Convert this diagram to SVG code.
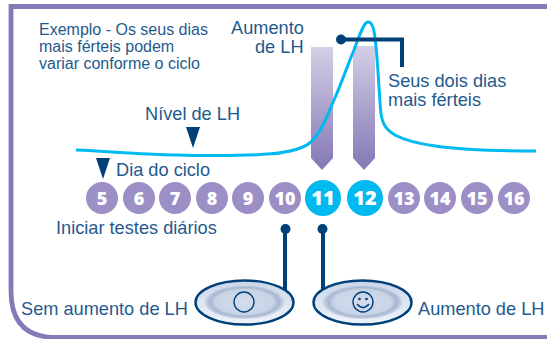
<svg xmlns="http://www.w3.org/2000/svg" width="547" height="339" viewBox="0 0 547 339">
<defs>
<linearGradient id="bar" x1="0" y1="0" x2="0" y2="1"><stop offset="0" stop-color="#d4cfe6"/><stop offset="1" stop-color="#8477b5"/></linearGradient>
<radialGradient id="well" cx="0.5" cy="0.5" r="0.5"><stop offset="0" stop-color="#d3dcec"/><stop offset="0.72" stop-color="#c9d4e7"/><stop offset="0.86" stop-color="#a8b6d1"/><stop offset="1" stop-color="#d0dbeb"/></radialGradient>
<linearGradient id="shell" x1="0" y1="0" x2="0" y2="1"><stop offset="0" stop-color="#c9d6e8"/><stop offset="1" stop-color="#f0f4fa"/></linearGradient>
</defs>
<style>
text{font-family:"Liberation Sans",Arial,sans-serif;fill:#1f5a8e;font-size:18.2px}
.small{font-size:16px}
.day{font-family:"Open Sans","DejaVu Sans",sans-serif;font-weight:800;fill:#fff;font-size:18px;text-anchor:middle}
.big{font-size:20px}
.d{fill:#9b8fc5}
.h{fill:#00b9f0}
.ln{fill:none;stroke:#004078;stroke-width:4}
.dot{fill:#004078}
.oval{fill:url(#shell);stroke:#004078;stroke-width:2.4}
.well{fill:url(#well)}
.mark{fill:none;stroke:#004078;stroke-width:1.4}
</style>
<rect width="547" height="339" fill="#fff"/>
<path id="frame" d="M550 6.500H11V291Q11 337.500 56 337.500H550" fill="none" stroke="#8779b7" stroke-width="4.800"/>
<g id="bars">
<path d="M311 47H333V158L322 170L311 158Z" fill="url(#bar)"/>
<path d="M353 46H375V158L364 170L353 158Z" fill="url(#bar)"/>
</g>
<path id="lh-curve" d="M76 150C120 152 160 156 210 155.500C250 155.500 295 156 311 142C322 131 328 114 334 100C342 82 348 64 354 50C360 34 364 22 368 22C372 22 374 28 375 38C378 60 379 95 381 114C383 126 387 130 395 135C410 143 440 151 536 151" fill="none" stroke="#00b9f0" stroke-width="3"/>
<g id="connectors">
<circle class="dot" cx="341" cy="39.500" r="5"/>
<path class="ln" d="M341 39.500H402V67"/>
<circle class="dot" cx="285.500" cy="229" r="5"/>
<path class="ln" d="M285 229V292"/>
<circle class="dot" cx="322.500" cy="229" r="5"/>
<path class="ln" d="M323 229V292"/>
<path class="dot" d="M186 127H200L193 148Z"/>
<path class="dot" d="M96 158H110L103 179Z"/>
</g>
<g id="labels">
<text class="small" x="39" y="35">Exemplo - Os seus dias</text>
<text class="small" x="39" y="52">mais férteis podem</text>
<text class="small" x="39" y="69">variar conforme o ciclo</text>
<text x="231" y="34">Aumento</text>
<text x="255" y="53">de LH</text>
<text x="388" y="86.500">Seus dois dias</text>
<text x="388" y="105.500">mais férteis</text>
<text x="145" y="120">Nível de LH</text>
<text x="116" y="176">Dia do ciclo</text>
<text x="56" y="234">Iniciar testes diários</text>
<text x="21" y="315">Sem aumento de LH</text>
<text x="418" y="315">Aumento de LH</text>
</g>
<g id="day-5"><circle class="d" cx="102" cy="198" r="16"/><text class="day" x="102" y="204.500">5</text></g>
<g id="day-6"><circle class="d" cx="139" cy="198" r="16"/><text class="day" x="139" y="204.500">6</text></g>
<g id="day-7"><circle class="d" cx="175" cy="198" r="16"/><text class="day" x="175" y="204.500">7</text></g>
<g id="day-8"><circle class="d" cx="212" cy="198" r="16"/><text class="day" x="212" y="204.500">8</text></g>
<g id="day-9"><circle class="d" cx="248" cy="198" r="16"/><text class="day" x="248" y="204.500">9</text></g>
<g id="day-10"><circle class="d" cx="285" cy="198" r="16"/><text class="day" x="285" y="204.500">10</text></g>
<g id="day-11"><circle class="h" cx="323" cy="198" r="18"/><text class="day big" x="323" y="205">11</text></g>
<g id="day-12"><circle class="h" cx="365" cy="198" r="18"/><text class="day big" x="365" y="205">12</text></g>
<g id="day-13"><circle class="d" cx="404" cy="198" r="16"/><text class="day" x="404" y="204.500">13</text></g>
<g id="day-14"><circle class="d" cx="440" cy="198" r="16"/><text class="day" x="440" y="204.500">14</text></g>
<g id="day-15"><circle class="d" cx="477" cy="198" r="16"/><text class="day" x="477" y="204.500">15</text></g>
<g id="day-16"><circle class="d" cx="514" cy="198" r="16"/><text class="day" x="514" y="204.500">16</text></g>
<g id="test-negative">
<ellipse class="oval" cx="244.500" cy="302.500" rx="49" ry="22"/>
<ellipse class="well" cx="244.500" cy="302" rx="40" ry="17"/>
<circle class="mark" cx="244" cy="302" r="10"/>
</g>
<g id="test-positive">
<ellipse class="oval" cx="362.500" cy="302.500" rx="49" ry="22"/>
<ellipse class="well" cx="362.500" cy="302" rx="40" ry="17"/>
<circle class="mark" cx="363" cy="302" r="10"/>
<circle class="dot" cx="359.500" cy="299" r="1.300"/>
<circle class="dot" cx="366.500" cy="299" r="1.300"/>
<path class="mark" d="M357 304Q363 311 369 304"/>
</g>
</svg>
